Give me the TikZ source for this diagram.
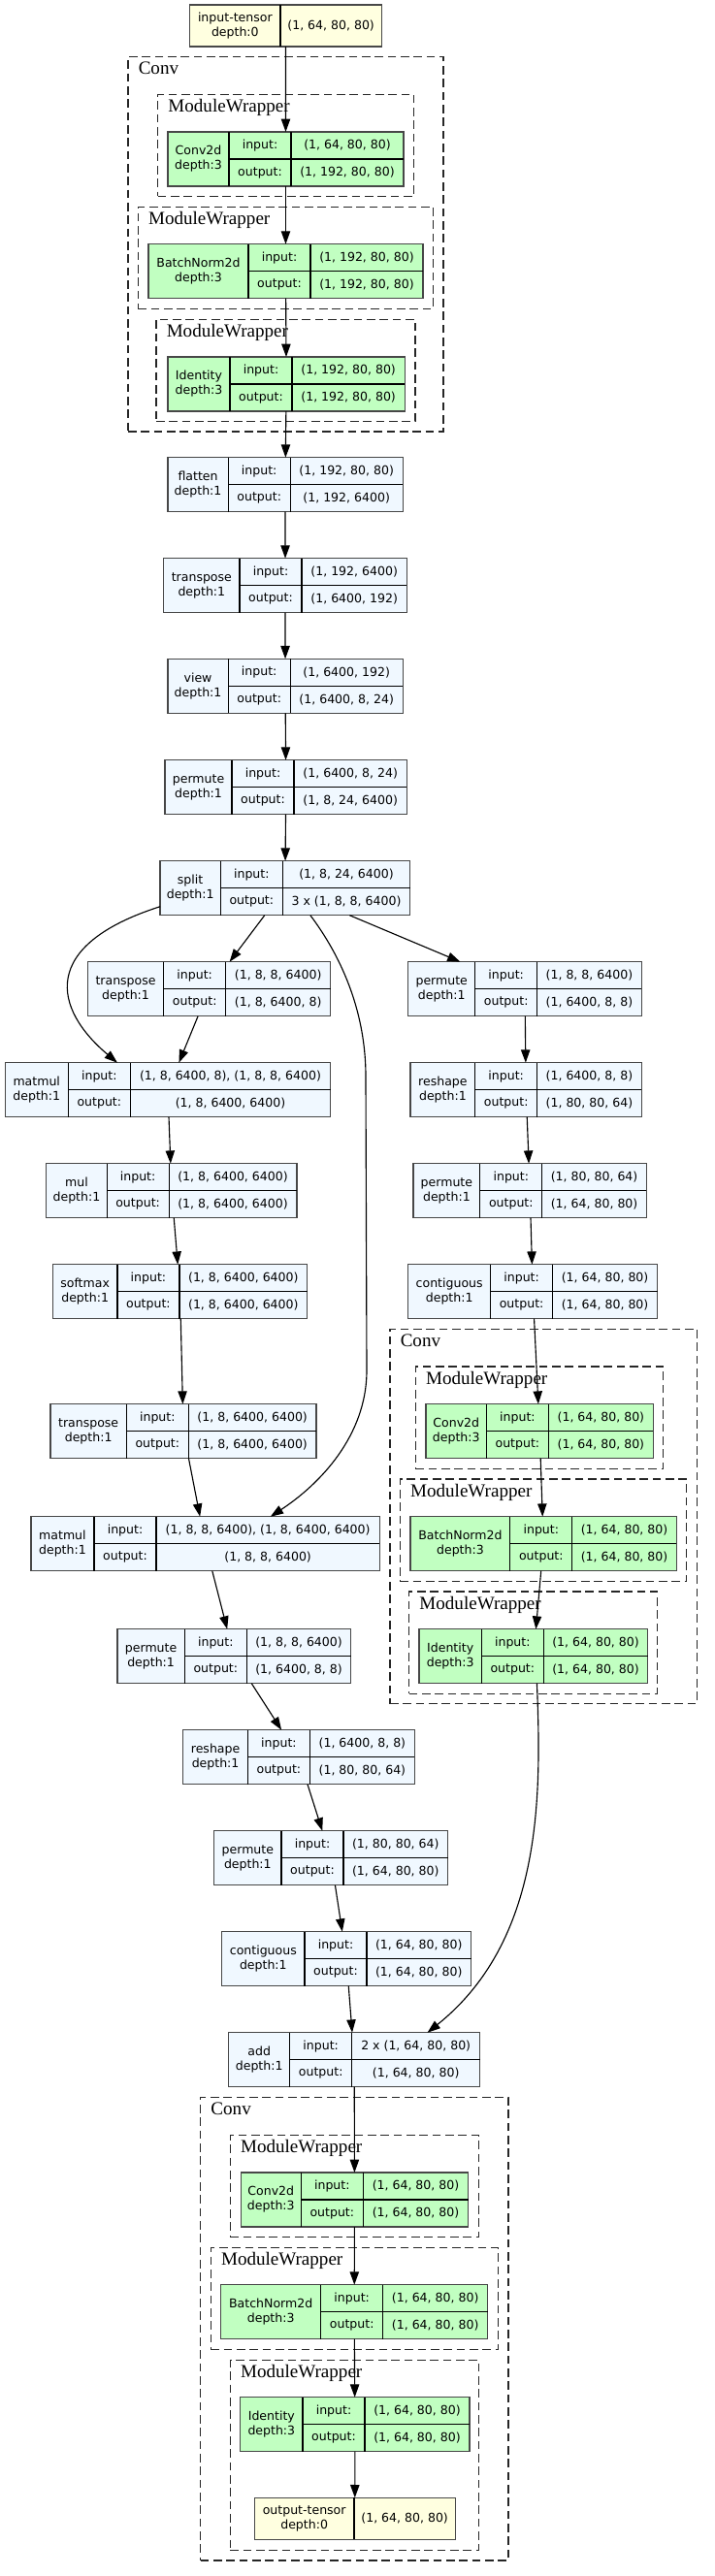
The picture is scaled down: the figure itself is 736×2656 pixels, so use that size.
\documentclass[tikz,border=0pt]{standalone}
\usepackage{fontspec}
\newfontfamily\tvsans{DejaVu Sans}
\newfontfamily\tvserif{Liberation Serif}
\usetikzlibrary{arrows.meta,calc}

\definecolor{fnfill}{HTML}{F0F8FF}
\definecolor{modfill}{HTML}{C1FFC1}
\definecolor{tensorfill}{HTML}{FFFFE0}

% name, style, left, first divider, right, top, title, input, output
\newcommand{\fnbox}[9]{%
  \node[#2, minimum width={(#5-#3)*0.75pt}] (#1) at (#3,#6) {};
  \draw[cellline] (#4,#6) -- ++(0,56) (#4+64,#6) -- ++(0,56) (#4,#6+28) -- (#5,#6+28);
  \node[celltext, align=center] (#1-name) at ({(#3+#4)/2},#6+28) {#7};
  \node[celltext] (#1-inlabel) at (#4+32,#6+14) {input:};
  \node[celltext] (#1-in) at ({(#4+64+#5)/2},#6+14) {#8};
  \node[celltext] (#1-outlabel) at (#4+32,#6+42) {output:};
  \node[celltext] (#1-out) at ({(#4+64+#5)/2},#6+42) {#9};
}
% name, left, divider, right, top, title, value
\newcommand{\tensorbox}[7]{%
  \node[tensornode, minimum width={(#4-#2)*0.75pt}] (#1) at (#2,#5) {};
  \draw[cellline] (#3,#5) -- ++(0,43);
  \node[celltext, align=center] (#1-name) at ({(#2+#3)/2},#5+21.5) {#6};
  \node[celltext] (#1-value) at ({(#3+#4)/2},#5+21.5) {#7};
}
% name, left, top, right, bottom, title
\newcommand{\wrapbox}[6]{%
  \node[wrapper, minimum width={(#4-#2)*0.75pt}, minimum height={(#5-#3)*0.75pt}] (#1) at (#2,#3) {};
  \node[wrappertitle] (#1-title) at (#2+10.5,#3+18) {#6};
}

\begin{document}
\begin{tikzpicture}[
    x=0.75pt, y=-0.75pt,
    fnnode/.style={draw=black!72, line width=1pt, fill=fnfill, minimum height=42pt, inner sep=0pt, outer sep=0pt, anchor=north west},
    modnode/.style={fnnode, fill=modfill},
    tensornode/.style={fnnode, fill=tensorfill, minimum height=32.25pt},
    cellline/.style={line width=0.9pt},
    celltext/.style={font=\tvsans\fontsize{9.4}{11.25}\selectfont, inner sep=0pt},
    wrapper/.style={draw=black!85, dash pattern=on 6.5pt off 3.5pt, line width=0.85pt, inner sep=0pt, outer sep=0pt, anchor=north west},
    wrappertitle/.style={font=\tvserif\fontsize{14.3}{16}\selectfont, anchor=base west, inner sep=0pt},
    arrow/.style={-{Triangle[length=10pt,width=7pt]}, line width=0.85pt}
]
\useasboundingbox (0,0) rectangle (736,2656);

% Input tensor
\tensorbox{intensor}{195.7}{289}{393.3}{5}{input-tensor\\depth:0}{(1, 64, 80, 80)}

% First Conv block
\wrapbox{convA}{132}{58.7}{457}{445}{Conv}
\wrapbox{wrapA1}{162.7}{97.3}{426.7}{202.3}{ModuleWrapper}
\wrapbox{wrapA2}{142.3}{213.3}{446.7}{318.3}{ModuleWrapper}
\wrapbox{wrapA3}{161}{329.3}{428}{434.3}{ModuleWrapper}
\fnbox{conv2dA}{modnode}{173}{236}{416}{136}{Conv2d\\depth:3}{(1, 64, 80, 80)}{(1, 192, 80, 80)}
\fnbox{bnA}{modnode}{153}{256}{436}{251.7}{BatchNorm2d\\depth:3}{(1, 192, 80, 80)}{(1, 192, 80, 80)}
\fnbox{identA}{modnode}{173}{237}{417.3}{368}{Identity\\depth:3}{(1, 192, 80, 80)}{(1, 192, 80, 80)}

% Main chain
\fnbox{flatten}{fnnode}{172.9}{235.2}{415.2}{471.7}{flatten\\depth:1}{(1, 192, 80, 80)}{(1, 192, 6400)}
\fnbox{transA}{fnnode}{168.7}{247}{419.4}{575.7}{transpose\\depth:1}{(1, 192, 6400)}{(1, 6400, 192)}
\fnbox{view}{fnnode}{172.9}{235.2}{415.2}{679.3}{view\\depth:1}{(1, 6400, 192)}{(1, 6400, 8, 24)}
\fnbox{permA}{fnnode}{170.1}{239}{419.4}{783.7}{permute\\depth:1}{(1, 6400, 8, 24)}{(1, 8, 24, 6400)}
\fnbox{split}{fnnode}{165}{227.3}{422.7}{887.7}{split\\depth:1}{(1, 8, 24, 6400)}{3 x (1, 8, 8, 6400)}

% Attention branch (left)
\fnbox{transB}{fnnode}{90.4}{168.7}{340.7}{991.7}{transpose\\depth:1}{(1, 8, 8, 6400)}{(1, 8, 6400, 8)}
\fnbox{matmulA}{fnnode}{5.2}{70.3}{340.7}{1095.7}{matmul\\depth:1}{(1, 8, 6400, 8), (1, 8, 8, 6400)}{(1, 8, 6400, 6400)}
\fnbox{mul}{fnnode}{47.8}{110.1}{306}{1199.7}{mul\\depth:1}{(1, 8, 6400, 6400)}{(1, 8, 6400, 6400)}
\fnbox{softmax}{fnnode}{54.4}{120.9}{316.8}{1303.7}{softmax\\depth:1}{(1, 8, 6400, 6400)}{(1, 8, 6400, 6400)}
\fnbox{transC}{fnnode}{52}{130.3}{326.1}{1447.7}{transpose\\depth:1}{(1, 8, 6400, 6400)}{(1, 8, 6400, 6400)}
\fnbox{matmulB}{fnnode}{31.9}{97}{391.3}{1563.7}{matmul\\depth:1}{(1, 8, 8, 6400), (1, 8, 6400, 6400)}{(1, 8, 8, 6400)}
\fnbox{permC}{fnnode}{120.9}{190.3}{361.8}{1679.7}{permute\\depth:1}{(1, 8, 8, 6400)}{(1, 6400, 8, 8)}
\fnbox{reshB}{fnnode}{188.8}{255.4}{427.4}{1783.7}{reshape\\depth:1}{(1, 6400, 8, 8)}{(1, 80, 80, 64)}
\fnbox{permD}{fnnode}{220.7}{290}{461.6}{1887.7}{permute\\depth:1}{(1, 80, 80, 64)}{(1, 64, 80, 80)}
\fnbox{contigB}{fnnode}{228.7}{314}{485.5}{1991.7}{contiguous\\depth:1}{(1, 64, 80, 80)}{(1, 64, 80, 80)}
\fnbox{add}{fnnode}{235.7}{298.7}{494.7}{2095.7}{add\\depth:1}{2 x (1, 64, 80, 80)}{(1, 64, 80, 80)}

% Value branch (right)
\fnbox{permB}{fnnode}{420.8}{489.7}{661.2}{991.7}{permute\\depth:1}{(1, 8, 8, 6400)}{(1, 6400, 8, 8)}
\fnbox{reshA}{fnnode}{423.1}{489.7}{661.2}{1095.7}{reshape\\depth:1}{(1, 6400, 8, 8)}{(1, 80, 80, 64)}
\fnbox{permE}{fnnode}{426}{494.8}{666.4}{1199.7}{permute\\depth:1}{(1, 80, 80, 64)}{(1, 64, 80, 80)}
\fnbox{contigA}{fnnode}{420.8}{505.6}{677.6}{1303.7}{contiguous\\depth:1}{(1, 64, 80, 80)}{(1, 64, 80, 80)}

% Second Conv block
\wrapbox{convB}{402}{1370.3}{718.4}{1756.7}{Conv}
\wrapbox{wrapB1}{428.3}{1409}{683.7}{1514.3}{ModuleWrapper}
\wrapbox{wrapB2}{412.4}{1525}{707.6}{1630.3}{ModuleWrapper}
\wrapbox{wrapB3}{421.7}{1641}{677.6}{1746.3}{ModuleWrapper}
\fnbox{conv2dB}{modnode}{439.1}{501.4}{673.4}{1447.7}{Conv2d\\depth:3}{(1, 64, 80, 80)}{(1, 64, 80, 80)}
\fnbox{bnB}{modnode}{423.1}{525.8}{697.3}{1563.7}{BatchNorm2d\\depth:3}{(1, 64, 80, 80)}{(1, 64, 80, 80)}
\fnbox{identB}{modnode}{432}{496.3}{667.8}{1679.7}{Identity\\depth:3}{(1, 64, 80, 80)}{(1, 64, 80, 80)}

% Last Conv block
\wrapbox{convC}{206.7}{2162.3}{524}{2640}{Conv}
\wrapbox{wrapC1}{237.3}{2201.7}{493.3}{2306.7}{ModuleWrapper}
\wrapbox{wrapC2}{217.3}{2317.4}{513.3}{2422.7}{ModuleWrapper}
\wrapbox{wrapC3}{237.3}{2433.3}{493.3}{2629.3}{ModuleWrapper}
\fnbox{conv2dC}{modnode}{248.3}{310.3}{482.7}{2240}{Conv2d\\depth:3}{(1, 64, 80, 80)}{(1, 64, 80, 80)}
\fnbox{bnC}{modnode}{227.7}{330.7}{502.7}{2355.7}{BatchNorm2d\\depth:3}{(1, 64, 80, 80)}{(1, 64, 80, 80)}
\fnbox{identC}{modnode}{247.7}{312}{484}{2471.7}{Identity\\depth:3}{(1, 64, 80, 80)}{(1, 64, 80, 80)}
\tensorbox{outtensor}{262.3}{365}{469.3}{2575.3}{output-tensor\\depth:0}{(1, 64, 80, 80)}

% Edges along the main chain
\draw[arrow] (intensor) -- (conv2dA);
\draw[arrow] (conv2dA) -- (bnA);
\draw[arrow] (bnA) -- (identA);
\draw[arrow] (identA) -- (flatten);
\draw[arrow] (flatten) -- (transA);
\draw[arrow] (transA) -- (view);
\draw[arrow] (view) -- (permA);
\draw[arrow] (permA) -- (split);

% Edges out of split
\draw[arrow] ($(split.south west)!0.16!(split.north west)$) .. controls +(-125,40) and +(-66,-55.7) .. ($(matmulA.north west)!0.345!(matmulA.north east)$);
\draw[arrow] (split) -- (transB);
\coordinate (splitbendA) at (377,1110);
\coordinate (splitbendB) at (378,1413);
\draw[arrow] ($(split.south west)!0.601!(split.south east)$) .. controls +(30,40) and +(0,-70) .. (splitbendA) -- (splitbendB) .. controls +(0,67) and +(51.2,-33.7) .. ($(matmulB.north west)!0.687!(matmulB.north east)$);
\draw[arrow] (split) -- (permB);

% Left branch
\draw[arrow] (transB) -- (matmulA);
\draw[arrow] (matmulA) -- (mul);
\draw[arrow] (mul) -- (softmax);
\draw[arrow] (softmax) -- (transC);
\draw[arrow] (transC) -- (matmulB);
\draw[arrow] (matmulB) -- (permC);
\draw[arrow] (permC) -- (reshB);
\draw[arrow] (reshB) -- (permD);
\draw[arrow] (permD) -- (contigB);
\draw[arrow] (contigB) -- (add);

% Right branch
\draw[arrow] (permB) -- (reshA);
\draw[arrow] (reshA) -- (permE);
\draw[arrow] (permE) -- (contigA);
\draw[arrow] (contigA) -- (conv2dB);
\draw[arrow] (conv2dB) -- (bnB);
\draw[arrow] (bnB) -- (identB);
\draw[arrow] ($(identB.south west)!0.515!(identB.south east)$) .. controls +(4.6,114.3) and +(119.5,-95.7) .. ($(add.north west)!0.791!(add.north east)$);

% Output block
\draw[arrow] (add) -- (conv2dC);
\draw[arrow] (conv2dC) -- (bnC);
\draw[arrow] (bnC) -- (identC);
\draw[arrow] (identC) -- (outtensor);

\end{tikzpicture}
\end{document}
